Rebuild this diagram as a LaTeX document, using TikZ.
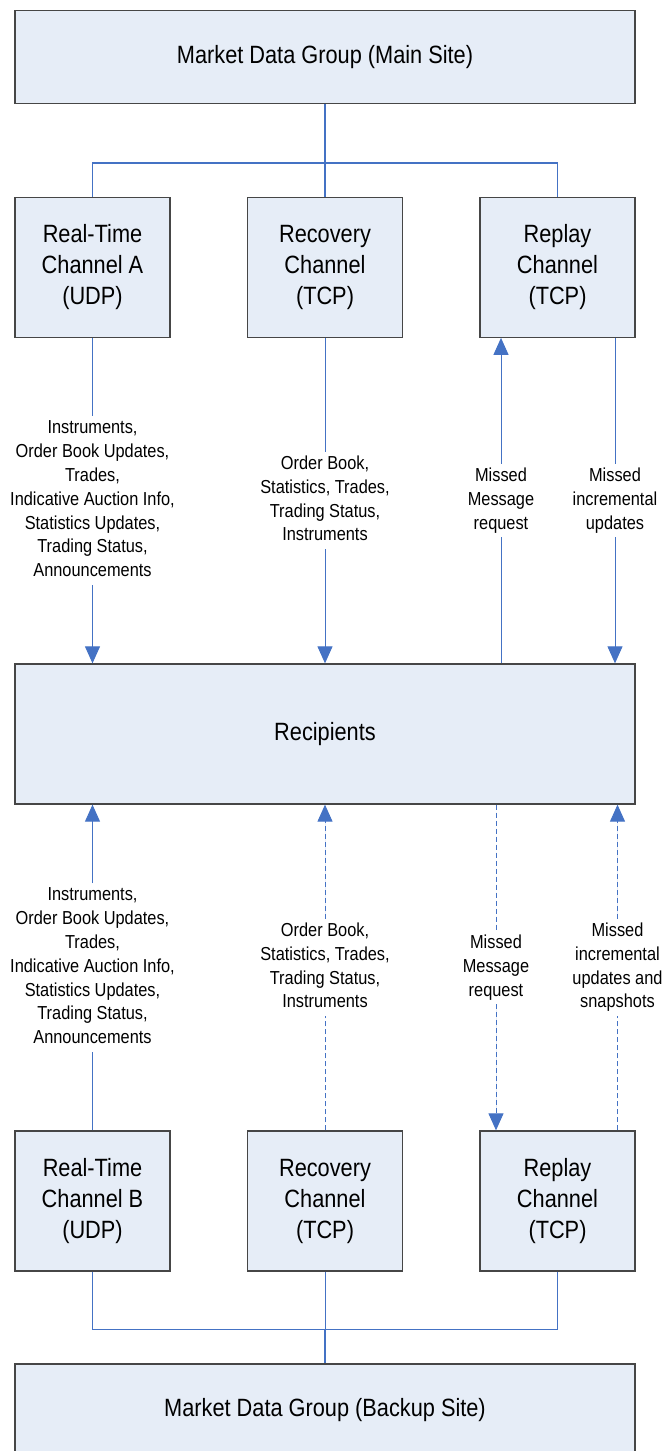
\documentclass[tikz,border=0pt]{standalone}
\usepackage{fontspec}
\setmainfont{Liberation Sans}
\usepackage{graphicx}
\usetikzlibrary{arrows.meta}
\definecolor{boxfill}{RGB}{230,237,247}
\definecolor{boxline}{RGB}{70,70,70}
\definecolor{flowblue}{RGB}{68,114,196}
\newcommand{\sqz}[1]{\scalebox{0.87}[1]{\begin{tabular}{@{}c@{}}#1\end{tabular}}}
\begin{document}
\begin{tikzpicture}[x=1pt,y=-1pt,
  box/.style={draw=boxline, line width=1.3pt, fill=boxfill, inner sep=0pt, font=\fontsize{25}{31}\selectfont},
  wide/.style={box, minimum width=620pt, minimum height=93pt},
  widebox/.style={box, minimum width=620pt, minimum height=140pt},
  chan/.style={box, minimum width=155pt, minimum height=140pt},
  lbl/.style={inner sep=1pt, font=\fontsize{18.8}{23.8}\selectfont},
  tree/.style={draw=flowblue, line width=1.8pt},
  thintree/.style={draw=flowblue, line width=1pt},
  flow/.style={draw=flowblue, line width=1pt},
  dsh/.style={flow, dash pattern=on 5pt off 3pt},
  tip/.style={-{Triangle[width=15pt,length=17pt]}, draw=flowblue, fill=flowblue},
]
\useasboundingbox (0,0) rectangle (671,1451);

% boxes
\node[wide] (top) at (325,57.2) {\sqz{Market Data Group (Main Site)}};
\node[chan] (A) at (92.5,267.2) {\sqz{Real-Time\\Channel A\\(UDP)}};
\node[chan] (R) at (325,267.2) {\sqz{Recovery\\Channel\\(TCP)}};
\node[chan] (P) at (557.5,267.2) {\sqz{Replay\\Channel\\(TCP)}};
\node[widebox] (rcp) at (325,734) {\sqz{Recipients}};
\node[chan] (B) at (92.5,1201) {\sqz{Real-Time\\Channel B\\(UDP)}};
\node[chan] (R2) at (325,1201) {\sqz{Recovery\\Channel\\(TCP)}};
\node[chan] (P2) at (557.5,1201) {\sqz{Replay\\Channel\\(TCP)}};
\node[wide] (bot) at (325,1410.5) {\sqz{Market Data Group (Backup Site)}};

% upper labels
\node[lbl] (la) at (92.5,500.5) {\sqz{Instruments,\\Order Book Updates,\\Trades,\\Indicative Auction Info,\\Statistics Updates,\\Trading Status,\\Announcements}};
\node[lbl] (lr) at (325,500.5) {\sqz{Order Book,\\Statistics, Trades,\\Trading Status,\\Instruments}};
\node[lbl] (lm) at (501,500.5) {\sqz{Missed\\Message\\request}};
\node[lbl] (li) at (615,500.5) {\sqz{Missed\\incremental\\updates}};

% lower labels
\node[lbl] (lb) at (92.5,967.5) {\sqz{Instruments,\\Order Book Updates,\\Trades,\\Indicative Auction Info,\\Statistics Updates,\\Trading Status,\\Announcements}};
\node[lbl] (lr2) at (325,967.5) {\sqz{Order Book,\\Statistics, Trades,\\Trading Status,\\Instruments}};
\node[lbl] (lm2) at (496,967.5) {\sqz{Missed\\Message\\request}};
\node[lbl] (li2) at (617.5,967.5) {\sqz{Missed\\incremental\\updates and\\snapshots}};

% top tree
\coordinate (j1) at (325,162.7);
\draw[tree] (top.south) -- (j1);
\draw[tree] (j1) -| (A.north);
\draw[tree] (j1) -| (P.north);
\draw[tree] (j1) -- (R.north);

% bottom tree
\coordinate (j2) at (325,1329);
\draw[thintree] (B.south) |- (j2);
\draw[thintree] (P2.south) |- (j2);
\draw[thintree] (R2.south) -- (j2);
\draw[tree] (j2) -- (bot.north);

% upper flows
\draw[flow] (A.south) -- (la.north);
\draw[flow, tip] (la.south) -- (la.south |- rcp.north);
\draw[flow] (R.south) -- (lr.north);
\draw[flow, tip] (lr.south) -- (lr.south |- rcp.north);
\draw[flow] (lm.south |- rcp.north) -- (lm.south);
\draw[flow, tip] (lm.north) -- (lm.north |- P.south);
\draw[flow] (li.north |- P.south) -- (li.north);
\draw[flow, tip] (li.south) -- (li.south |- rcp.north);

% lower flows
\draw[flow] (B.north) -- (lb.south);
\draw[flow, tip] (lb.north) -- (lb.north |- rcp.south);
\draw[dsh] (R2.north) -- (lr2.south);
\draw[dsh, tip] (lr2.north) -- (lr2.north |- rcp.south);
\draw[dsh] (lm2.north |- rcp.south) -- (lm2.north);
\draw[dsh, tip] (lm2.south) -- (lm2.south |- P2.north);
\draw[dsh] (li2.south |- P2.north) -- (li2.south);
\draw[dsh, tip] (li2.north) -- (li2.north |- rcp.south);
\end{tikzpicture}
\end{document}
